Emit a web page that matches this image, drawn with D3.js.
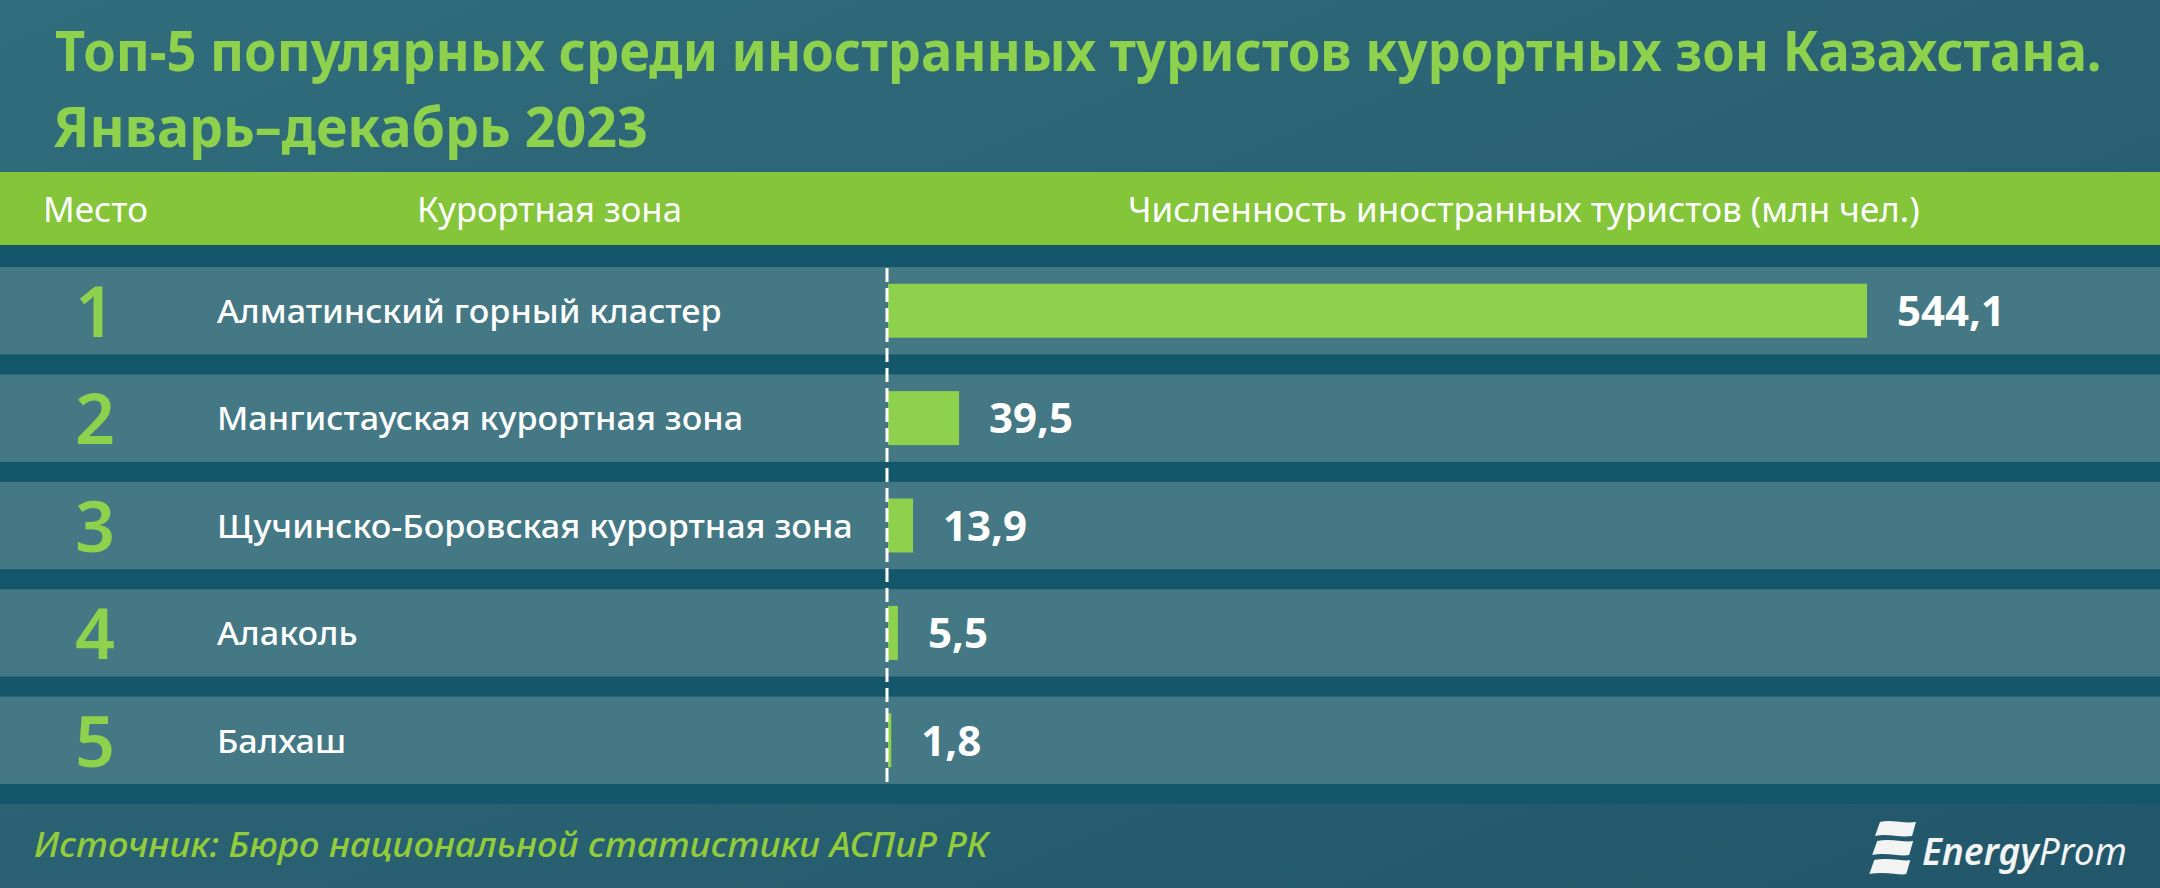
<!DOCTYPE html>
<html>
<head>
<meta charset="utf-8">
<script src="https://cdn.jsdelivr.net/npm/d3@7"></script>
<style>
  html, body { margin: 0; padding: 0; background: #2a6373; }
  svg { display: block; }
</style>
</head>
<body>
<svg id="chart" width="2160" height="888"></svg>
<script>
// ---------- data ----------
const titleLines = ["Топ-5 популярных среди иностранных туристов курортных зон Казахстана.", "Январь–декабрь 2023"];
const headers = ["Место", "Курортная зона", "Численность иностранных туристов (млн чел.)"];
const ranks = ["1", "2", "3", "4", "5"];
const zones = ["Алматинский горный кластер", "Мангистауская курортная зона", "Щучинско-Боровская курортная зона", "Алаколь", "Балхаш"];
const values = [544.1, 39.5, 13.9, 5.5, 1.8];
const sourceText = "Источник: Бюро национальной статистики АСПиР РК";
const logoParts = ["Energy", "Prom"];

// ---------- layout ----------
const W = 2160, H = 888;
const C = {
  green: "#8ed14c",
  header: "#84c53a",
  row: "#447884",
  gap: "#14566a",
  white: "#ffffff",
  source: "#93cc3a"
};
const FONT = "'Noto Sans', 'Open Sans', sans-serif";

const svg = d3.select("#chart");
const defs = svg.append("defs");
const bg = defs.append("linearGradient").attr("id", "bg").attr("x1", "0").attr("y1", "0").attr("x2", "1").attr("y2", "1");
bg.append("stop").attr("offset", "0").attr("stop-color", "#316d7c");
bg.append("stop").attr("offset", "1").attr("stop-color", "#22566a");
svg.append("rect").attr("width", W).attr("height", H).attr("fill", "url(#bg)");

// helper: horizontal squeeze factor to reach a target width
function fitWidth(sel, target) {
  const w = sel.node().getComputedTextLength();
  return target / w;
}

// ---------- title ----------
const t1 = svg.append("text").attr("font-family", FONT).attr("font-weight", 700).attr("font-size", 55)
  .attr("fill", C.green).text(titleLines[0]);
t1.attr("transform", `translate(55,71) scale(${fitWidth(t1, 2047)},1)`);
const t2 = svg.append("text").attr("font-family", FONT).attr("font-weight", 700).attr("font-size", 55)
  .attr("fill", C.green).text(titleLines[1]);
t2.attr("transform", `translate(53,147) scale(${fitWidth(t2, 595)},1)`);

// ---------- header band ----------
svg.append("rect").attr("x", 0).attr("y", 172).attr("width", W).attr("height", 73).attr("fill", C.header);
const headerX = [43, 417, 1128];
const headerW = [105, 265, 792];
headers.forEach((h, i) => {
  const t = svg.append("text").attr("font-family", FONT).attr("font-size", 35).attr("fill", C.white).text(h);
  t.attr("transform", `translate(${headerX[i]},222) scale(${fitWidth(t, headerW[i])},1)`);
});

// ---------- rows ----------
svg.append("rect").attr("x", 0).attr("y", 245).attr("width", W).attr("height", 559).attr("fill", C.gap);

const y = d3.scaleBand().domain(ranks).range([267, 784]).paddingInner(20 / 107.5).paddingOuter(0);
const x = d3.scaleLinear().domain([0, d3.max(values)]).range([888, 1867]);

svg.append("g").selectAll("rect").data(ranks).join("rect")
  .attr("x", 0).attr("y", d => y(d)).attr("width", W).attr("height", y.bandwidth()).attr("fill", C.row);

// rank numbers
svg.append("g").selectAll("text").data(ranks).join("text")
  .attr("x", 95).attr("y", d => y(d) + 70).attr("text-anchor", "middle")
  .attr("font-family", FONT).attr("font-weight", 600).attr("font-size", 70).attr("fill", C.green)
  .text(d => d);

// zone labels (common horizontal squeeze based on the longest label)
const zoneTexts = svg.append("g").selectAll("text").data(zones).join("text")
  .attr("font-family", FONT).attr("font-size", 32).attr("font-weight", 500).attr("fill", C.white).text(d => d);
const zoneScale = fitWidth(d3.select(zoneTexts.nodes()[2]), 636);
zoneTexts.attr("transform", (d, i) => `translate(217,${y(ranks[i]) + 56}) scale(${zoneScale},1)`);

// bars
const barH = 54;
svg.append("g").selectAll("rect").data(values).join("rect")
  .attr("x", x(0)).attr("y", (d, i) => y(ranks[i]) + (y.bandwidth() - barH) / 2)
  .attr("width", d => Math.max(0, x(d) - x(0))).attr("height", barH).attr("fill", C.green);

// zero line (dashed)
svg.append("line").attr("x1", x(0) - 1).attr("x2", x(0) - 1).attr("y1", 268).attr("y2", 783)
  .attr("stroke", C.white).attr("stroke-width", 3).attr("stroke-dasharray", "14,6");

// value labels
const fmt = v => d3.format(".1f")(v).replace(".", ",");
svg.append("g").selectAll("text").data(values).join("text")
  .attr("x", d => x(d) + 30).attr("y", (d, i) => y(ranks[i]) + 59)
  .attr("font-family", FONT).attr("font-weight", 700).attr("font-size", 42).attr("fill", C.white)
  .text(d => fmt(d));

// ---------- footer ----------
const src = svg.append("text").attr("font-family", FONT).attr("font-style", "italic").attr("font-weight", 500)
  .attr("font-size", 35).attr("fill", C.source).text(sourceText);
src.attr("transform", `translate(34,857) scale(${fitWidth(src, 954)},1)`);

// logo icon: three slanted stripes
const logo = svg.append("g").attr("transform", "translate(1872,822)");
[0, 19, 38].forEach(dy => {
  logo.append("path")
    .attr("d", `M ${8 - dy * 0.15} ${dy} C 20 ${dy - 3}, 32 ${dy + 2}, ${44 - dy * 0.15} ${dy} L ${40 - dy * 0.15} ${dy + 14} C 28 ${dy + 16}, 16 ${dy + 11}, ${3 - dy * 0.15} ${dy + 14} Z`)
    .attr("fill", "#f2f4f4");
});
const logoText = svg.append("text").attr("font-family", FONT).attr("font-style", "italic").attr("font-size", 38).attr("fill", "#f2f4f4");
logoText.append("tspan").attr("font-weight", 600).text(logoParts[0]);
logoText.append("tspan").attr("font-weight", 400).text(logoParts[1]);
logoText.attr("transform", `translate(1922,865) scale(${fitWidth(logoText, 205)},1)`);
</script>
</body>
</html>
